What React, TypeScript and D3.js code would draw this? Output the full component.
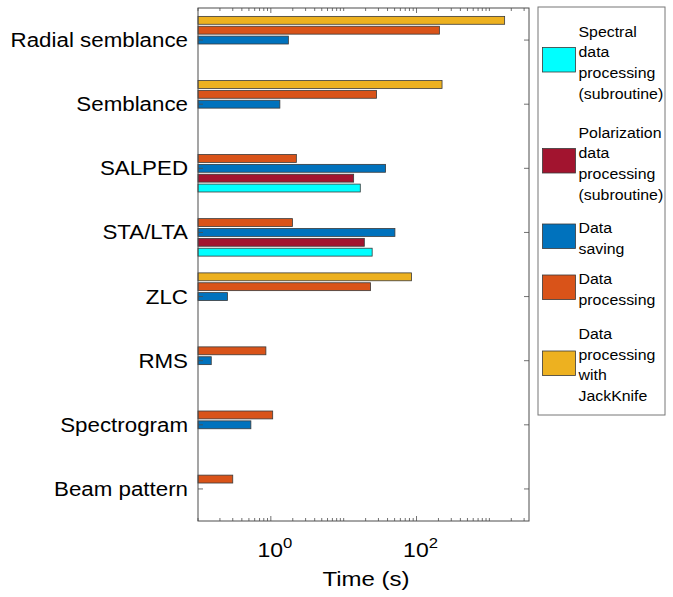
import React from "react";
import * as d3 from "d3";

const categories = ["Radial semblance", "Semblance", "SALPED", "STA/LTA", "ZLC", "RMS", "Spectrogram", "Beam pattern"];
const spectral = [null, null, 16.9, 24.6, null, null, null, null];
const polarization = [null, null, 13.7, 19.2, null, null, null, null];
const saving = [1.74, 1.33, 37.6, 50.5, 0.254, 0.152, 0.532, null];
const processing = [206, 28.3, 2.24, 1.98, 23.4, 0.855, 1.06, 0.3];
const jackknife = [1620, 224, null, null, 85.4, null, null, null];

const seriesNames = [
  ["Spectral", "data", "processing", "(subroutine)"],
  ["Polarization", "data", "processing", "(subroutine)"],
  ["Data", "saving"],
  ["Data", "processing"],
  ["Data", "processing", "with", "JackKnife"],
];
const seriesColors = ["#00FFFF", "#A2142F", "#0072BD", "#D95319", "#EDB120"];
const seriesData = [spectral, polarization, saving, processing, jackknife];
const xTickLabels = [
  { v: 1, base: "10", exp: "0" },
  { v: 100, base: "10", exp: "2" },
];

const FONT = "'Liberation Sans', Arial, Helvetica, sans-serif";

export default function App() {
  const left = 198, right = 529, top = 8, bottom = 521;
  const x = d3.scaleLog().domain([0.1, 3500]).range([left, right]);
  const y = d3.scaleLinear().domain([0.5, 8.5]).range([top, bottom]);
  const n = seriesData.length;
  const groupWidth = Math.min(0.8, n / (n + 1.5));
  const slot = groupWidth / n;
  const barH = Math.abs(y(0.8 * slot) - y(0));

  const minor: number[] = [];
  for (let k = -1; k <= 3; k++) {
    for (let m = 1; m <= 9; m++) {
      const v = m * Math.pow(10, k);
      if (v >= 0.1 && v <= 3500) minor.push(v);
    }
  }
  const majorSet = new Set([1, 100]);
  const axisColor = "#4d4d4d";

  const legendItems = [
    { sy: 47.5, lines: seriesNames[0], ty0: 36.5 },
    { sy: 148.5, lines: seriesNames[1], ty0: 137.5 },
    { sy: 224, lines: seriesNames[2], ty0: 233 },
    { sy: 275, lines: seriesNames[3], ty0: 284 },
    { sy: 351, lines: seriesNames[4], ty0: 339 },
  ];

  return (
    <svg width={673} height={597} style={{ position: "absolute", left: 0, top: 0, background: "#fff" }} fontFamily={FONT}>
      <rect x={0} y={0} width={673} height={597} fill="#fff" />
      {/* bars */}
      {seriesData.map((arr, si) =>
        arr.map((v, ci) => {
          if (v == null) return null;
          const center = ci + 1 - (si - (n - 1) / 2) * slot;
          const yc = y(center);
          return (
            <rect
              key={`${si}-${ci}`}
              x={left}
              y={yc - barH / 2}
              width={x(v) - left}
              height={barH}
              fill={seriesColors[si]}
              stroke="#3a3a3a"
              strokeWidth={0.8}
            />
          );
        })
      )}
      {/* box */}
      <rect x={left} y={top} width={right - left} height={bottom - top} fill="none" stroke={axisColor} strokeWidth={1} />
      {/* x ticks */}
      {minor.map((v, i) => {
        const len = majorSet.has(v) ? 5 : 3;
        const xx = x(v);
        return (
          <g key={i}>
            <line x1={xx} x2={xx} y1={bottom} y2={bottom - len} stroke={axisColor} strokeWidth={0.8} />
            <line x1={xx} x2={xx} y1={top} y2={top + len} stroke={axisColor} strokeWidth={0.8} />
          </g>
        );
      })}
      {/* y ticks */}
      {categories.map((c, i) => (
        <g key={c}>
          <line x1={left} x2={left + 5} y1={y(i + 1)} y2={y(i + 1)} stroke={axisColor} strokeWidth={0.8} />
          <line x1={right} x2={right - 5} y1={y(i + 1)} y2={y(i + 1)} stroke={axisColor} strokeWidth={0.8} />
          <text transform={`translate(188,${y(i + 1) + 7}) scale(1.145,1)`} textAnchor="end" fontSize={19.5} fill="#000">
            {c}
          </text>
        </g>
      ))}
      {/* x tick labels */}
      {xTickLabels.map((t) => (
        <text key={t.v} transform={`translate(${x(t.v) + 4},557) scale(1.15,1)`} textAnchor="middle" fontSize={20} fill="#000">
          <tspan>{t.base}</tspan>
          <tspan dy={-9} fontSize={14.5}>{t.exp}</tspan>
        </text>
      ))}
      <text transform="translate(366,586) scale(1.2,1)" textAnchor="middle" fontSize={20} fill="#000">
        Time (s)
      </text>
      {/* legend */}
      <rect x={538} y={7} width={127} height={408} fill="#fff" stroke="#777" strokeWidth={1} />
      {legendItems.map((it, i) => (
        <g key={i}>
          <rect x={542.5} y={it.sy} width={33} height={24.5} fill={seriesColors[i]} stroke="#3a3a3a" strokeWidth={0.8} />
          {it.lines.map((ln, j) => (
            <text key={j} transform={`translate(578.5,${it.ty0 + j * 20.7}) scale(1.06,1)`} fontSize={15} fill="#000">
              {ln}
            </text>
          ))}
        </g>
      ))}
    </svg>
  );
}
